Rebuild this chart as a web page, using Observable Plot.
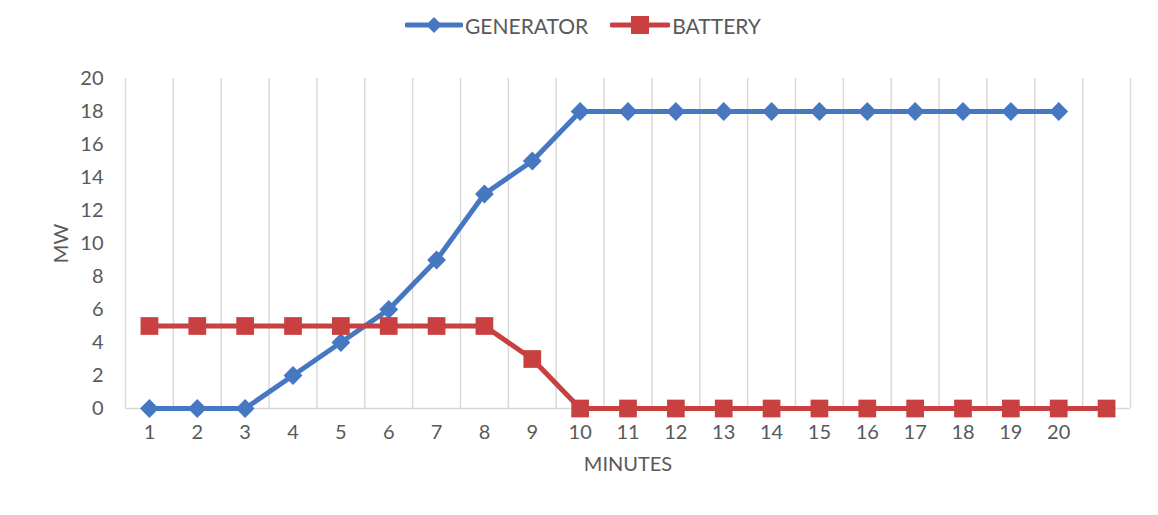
<!DOCTYPE html>
<html>
<head>
<meta charset="utf-8">
<script src="https://cdn.jsdelivr.net/npm/d3@7"></script>
<script src="https://cdn.jsdelivr.net/npm/@observablehq/plot@0.6"></script>
<style>
  html, body { margin: 0; padding: 0; background: #ffffff; }
  body { width: 1158px; height: 515px; overflow: hidden; font-family: Lato, "Open Sans", sans-serif; }
  #legend { height: 50px; display: flex; justify-content: center; align-items: center; gap: 22px; padding-left: 8px; font-size: 21px; color: #595959; }
  .item { display: flex; align-items: center; gap: 2px; }
</style>
</head>
<body>
<div id="legend"></div>
<div id="chart"></div>
<script>
const minutes = [1,2,3,4,5,6,7,8,9,10,11,12,13,14,15,16,17,18,19,20,21];
const tickLabels = ["1","2","3","4","5","6","7","8","9","10","11","12","13","14","15","16","17","18","19","20",""];
const generator = [0,0,0,2,4,6,9,13,15,18,18,18,18,18,18,18,18,18,18,18,null];
const battery   = [5,5,5,5,5,5,5,5,3,0,0,0,0,0,0,0,0,0,0,0,0];
const seriesNames = ["GENERATOR", "BATTERY"];
const colors = ["#4678C2", "#C8403F"];
const symbols = ["diamond2", "square"];
const yTicks = [0,2,4,6,8,10,12,14,16,18,20];

const rows = [];
minutes.forEach((m, i) => {
  if (generator[i] != null) rows.push({minute: m, mw: generator[i], series: seriesNames[0]});
  if (battery[i] != null) rows.push({minute: m, mw: battery[i], series: seriesNames[1]});
});
const boundaries = minutes.map(m => m - 0.5).concat([minutes[minutes.length - 1] + 0.5]);

// legend
const legend = document.getElementById("legend");
seriesNames.forEach((name, i) => {
  const item = document.createElement("div");
  item.className = "item";
  const sw = i === 0
    ? `<svg width="58" height="20"><line x1="2" y1="10" x2="56" y2="10" stroke="${colors[i]}" stroke-width="5" stroke-linecap="round"/><path d="M29,2 L37,10 L29,18 L21,10Z" fill="${colors[i]}"/></svg>`
    : `<svg width="60" height="20"><line x1="2" y1="10" x2="58" y2="10" stroke="${colors[i]}" stroke-width="5" stroke-linecap="round"/><rect x="21" y="1" width="18" height="18" fill="${colors[i]}"/></svg>`;
  item.innerHTML = sw + `<span>${name}</span>`;
  legend.appendChild(item);
});

const plot = Plot.plot({
  width: 1158,
  height: 465,
  marginLeft: 125,
  marginRight: 28,
  marginTop: 28,
  marginBottom: 107,
  style: { fontFamily: "Lato, 'Open Sans', sans-serif", fontSize: "20px", color: "#595959", background: "#ffffff" },
  x: { type: "linear", domain: [boundaries[0], boundaries[boundaries.length - 1]] },
  y: { domain: [0, 20] },
  color: { domain: seriesNames, range: colors },
  marks: [
    Plot.ruleX(boundaries, { stroke: "#d9d9d9", strokeWidth: 1.5 }),
    Plot.ruleY([0], { stroke: "#d9d9d9", strokeWidth: 1.5 }),
    Plot.axisY({ ticks: yTicks, tickSize: 0, tickPadding: 22, fontSize: 20, label: "MW", labelAnchor: "center", labelOffset: 72, labelArrow: "none" }),
    Plot.axisX({ ticks: minutes, tickFormat: (d) => tickLabels[minutes.indexOf(d)], tickSize: 0, tickPadding: 16, fontSize: 20, label: "MINUTES", labelAnchor: "center", labelOffset: 62, labelArrow: "none" }),
    Plot.line(rows, { x: "minute", y: "mw", z: "series", stroke: "series", strokeWidth: 5 }),
    Plot.dot(rows.filter(d => d.series === seriesNames[0]), { x: "minute", y: "mw", fill: colors[0], symbol: () => symbols[0], r: 8.5 }),
    Plot.dot(rows.filter(d => d.series === seriesNames[1]), { x: "minute", y: "mw", fill: colors[1], symbol: () => symbols[1], r: 10 })
  ]
});
document.getElementById("chart").appendChild(plot);
</script>
</body>
</html>
